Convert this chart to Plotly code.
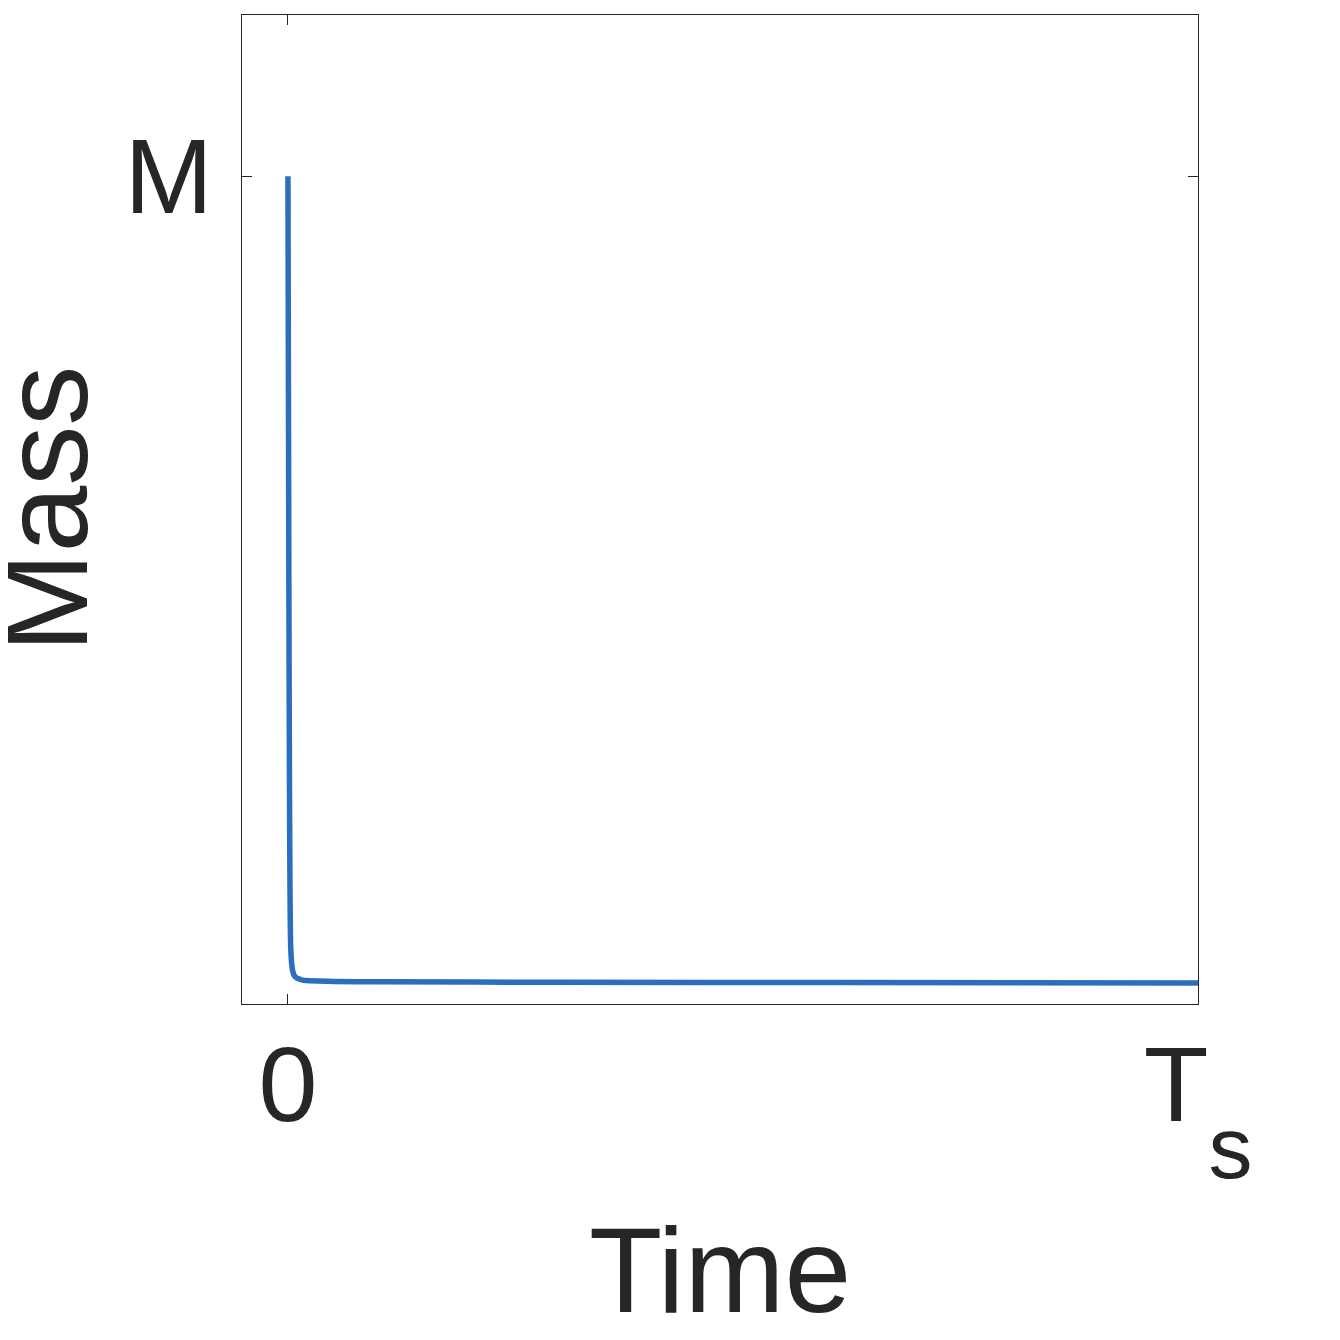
import plotly.graph_objects as go

# Data (time in units of Ts, mass in units of M)
time = [0.0, 0.0003, 0.0006, 0.001, 0.0015, 0.002, 0.0025, 0.003, 0.004,
        0.005, 0.007, 0.01, 0.015, 0.02, 0.05, 0.1, 0.3, 0.6, 1.0]
mass = [1.0, 0.85, 0.70, 0.50, 0.30, 0.16, 0.08, 0.045, 0.025,
        0.016, 0.009, 0.006, 0.004, 0.003, 0.002, 0.0015, 0.001, 0.0005, 0.0]

x_tickvals = [0, 1]
x_ticktext = ["0", "T<sub><sub><sub><sub><span style='font-size:88px'>s</span></sub></sub></sub></sub>"]
y_tickvals = [1]
y_ticktext = ["M"]
x_title = "Time"
y_title = "Mass"

TXT = "#262626"
FONT = "Liberation Sans, Arial, Helvetica, sans-serif"

fig = go.Figure()
fig.add_trace(go.Scatter(x=time, y=mass, mode="lines",
                         line=dict(color="#2b6dbf", width=5.5, shape="spline", smoothing=0.6),
                         showlegend=False, hoverinfo="skip"))

fig.update_layout(
    width=1340, height=1340,
    margin=dict(l=234, r=150, t=7, b=344),
    paper_bgcolor="white", plot_bgcolor="white",
    font=dict(family=FONT, color=TXT),
    xaxis=dict(range=[-0.0505, 1.0], tickvals=x_tickvals, ticktext=x_ticktext,
               ticks="inside", ticklen=10, tickwidth=1, tickcolor=TXT,
               showline=True, linecolor=TXT, linewidth=1, mirror="ticks",
               showgrid=False, zeroline=False, automargin=False,
               tickfont=dict(size=106, color=TXT, family=FONT),
               ticklabelstandoff=-11),
    yaxis=dict(range=[-0.026, 1.2], tickvals=y_tickvals, ticktext=y_ticktext,
               ticks="inside", ticklen=10, tickwidth=1, tickcolor=TXT,
               showline=True, linecolor=TXT, linewidth=1, mirror="ticks",
               showgrid=False, zeroline=False, automargin=False,
               tickfont=dict(size=106, color=TXT, family=FONT),
               ticklabelstandoff=7),
    annotations=[
        dict(text=x_title, xref="paper", yref="paper", x=0.5, y=0,
             xanchor="center", yanchor="top", yshift=-198, showarrow=False,
             borderpad=0, font=dict(size=120, color=TXT, family=FONT)),
        dict(text=y_title, xref="paper", yref="paper", x=0, y=0.5,
             xanchor="center", yanchor="middle", xshift=-198, textangle=-90,
             showarrow=False, borderpad=0,
             font=dict(size=120, color=TXT, family=FONT)),
    ],
)

fig.write_html("out.html")
